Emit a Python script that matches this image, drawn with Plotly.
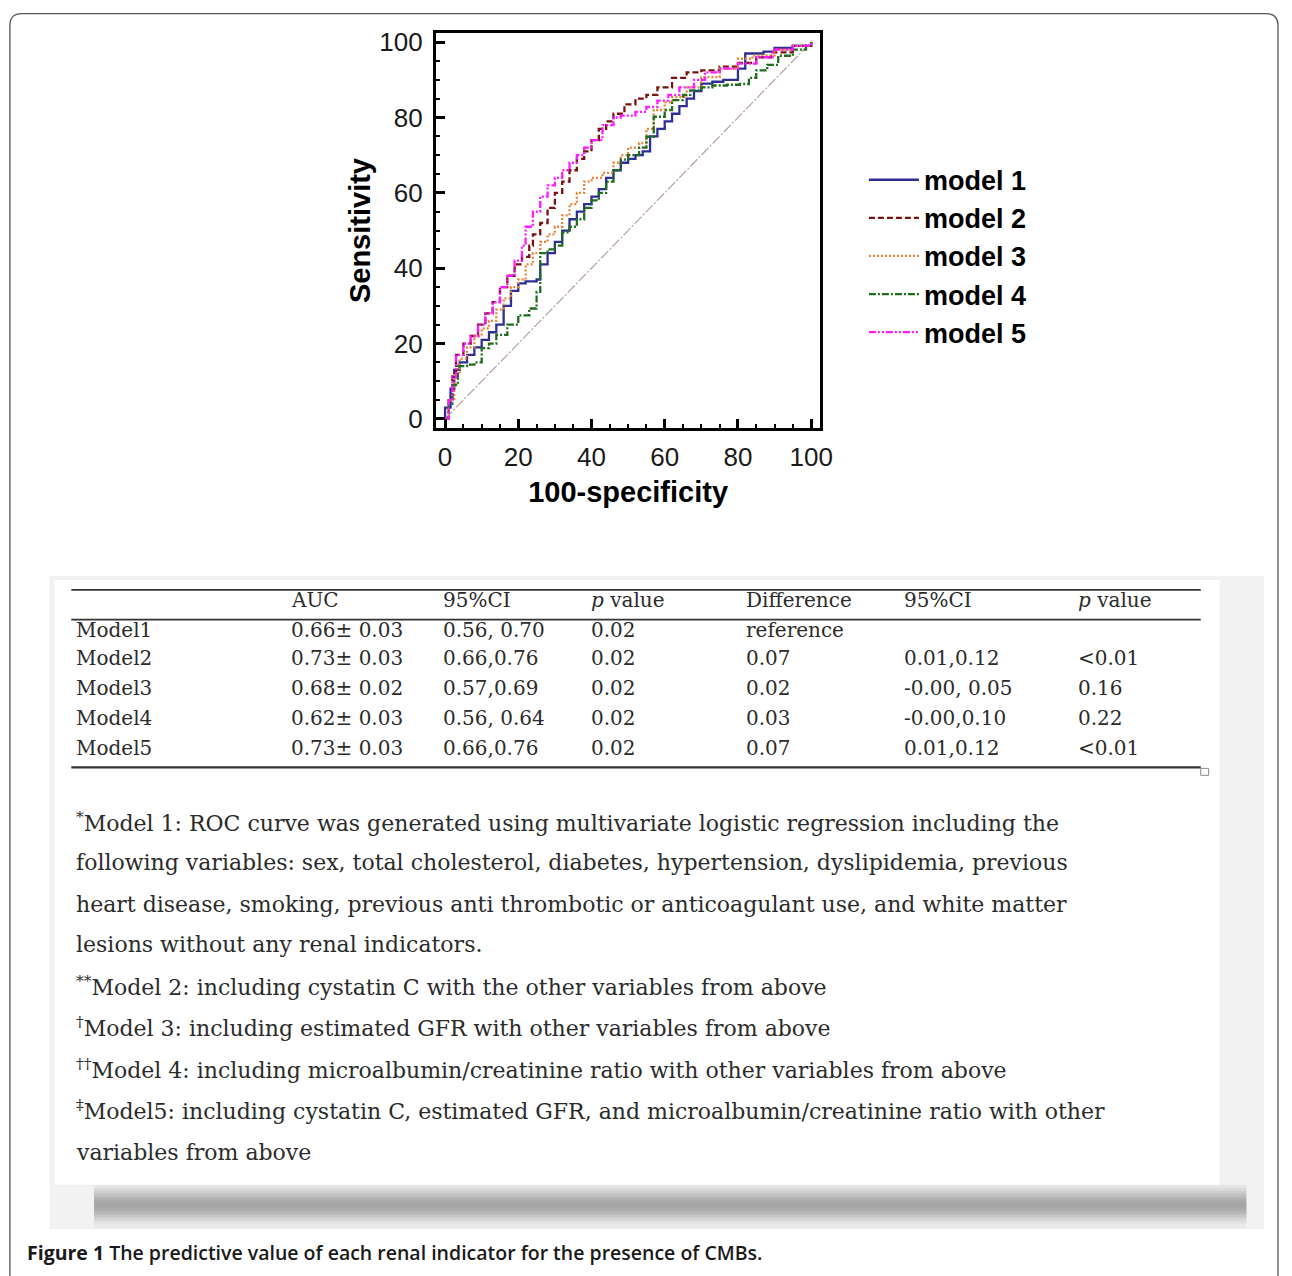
import plotly.graph_objects as go

W, H = 1292, 1276

# ---------------- ROC data (100-specificity, sensitivity) ----------------
m1_x = [0, 0, 1.5, 2.5, 4, 6, 8, 10, 12, 14, 16, 18, 20, 22, 25, 26, 28, 30, 32, 34, 36, 38, 40, 42, 44, 46, 48, 50, 52, 54, 56, 58, 60, 62, 64, 66, 68, 70, 73, 76, 80, 82, 87, 90, 95, 100]
m1_y = [0, 3, 8, 13, 15, 17, 19, 21, 23, 25, 30, 34, 36, 36.5, 37, 41, 44, 47, 50, 53, 55, 57, 59, 61, 64, 66, 68, 69, 70, 71, 75, 77, 79, 81, 83, 85, 87, 89, 89.5, 90, 93, 97, 97.5, 98.5, 99, 100]

m2_x = [0, 1, 2, 3, 5, 7, 9, 11, 13, 15, 17, 19, 21, 23, 24, 26, 28, 30, 32, 34, 36, 38, 40, 42, 44, 46, 49, 52, 55, 58, 62, 66, 70, 75, 80, 85, 89, 95, 100]
m2_y = [0, 5, 12, 17, 20, 22, 25, 28, 31, 35, 38, 41, 43, 46, 49, 52, 56, 60, 63, 66, 69, 71, 74, 77, 79, 81, 83.5, 85, 86, 88, 90.5, 92, 92.5, 93.5, 94.5, 96, 97.3, 99, 100]

m3_x = [0, 1, 2.5, 4, 6, 8, 10, 12, 14, 16, 18, 20, 22, 24, 26, 28, 30, 32, 34, 36, 38, 40, 43, 46, 48, 50, 53, 55, 57, 60, 62, 66, 70, 75, 80, 84, 90, 95, 100]
m3_y = [0, 5, 12, 16, 19, 22, 24, 26, 29, 32, 35, 37, 41, 44, 47, 49, 51, 54, 57, 60, 63, 64, 65.3, 68, 70, 72, 73.2, 77, 82, 84, 85.4, 88, 90.7, 93, 95.6, 96.5, 98, 99, 100]

m4_x = [0, 1, 2, 3.5, 6, 8, 10, 12, 14, 17, 20, 23, 25, 26, 28, 30, 32, 34, 36, 38, 40, 42, 44, 46, 48, 50, 53, 55, 57, 60, 62, 65, 67, 70, 73, 77, 80.5, 83, 85, 88, 91, 95, 98.6, 100]
m4_y = [0, 4, 9, 14, 14.4, 15, 18.8, 20, 22.3, 25, 27.5, 29.3, 33.7, 44, 45, 46, 49.5, 51, 53, 56, 58, 60, 63, 66, 68.8, 70, 72, 74.9, 80.2, 82, 84.6, 86, 87.2, 88, 88.5, 88.7, 88.9, 90.5, 92.5, 94, 96.4, 98, 99, 100]

m5_x = [0, 1, 2, 3, 5, 7, 9, 11, 13, 15, 17, 19, 21, 22, 24, 26, 28, 30, 32, 34, 36, 38, 40, 43, 46, 48, 52, 55, 58, 61, 64, 68, 71, 75, 80, 85, 89.5, 95, 100]
m5_y = [0, 5, 11, 17, 20, 22, 25, 28, 31, 35, 38, 42, 46, 51, 55, 59, 62, 64, 66, 68, 70, 72, 74, 78, 80, 80.5, 81.5, 82.8, 84.5, 86, 88, 90, 92, 93, 94.3, 96, 98, 99, 100]

ref_x = [0, 100]
ref_y = [0, 100]

series_names = ["model 1", "model 2", "model 3", "model 4", "model 5"]
series_colors = ["#2e2e96", "#7a1212", "#e8843a", "#1f6e1f", "#ff1aff"]
series_dash = ["solid", "6px,3px", "2px,2px", "7px,2px,2px,2px", "7px,2px,2px,2px,2px,2px"]
xtick_vals = [0, 20, 40, 60, 80, 100]
ytick_vals = [0, 20, 40, 60, 80, 100]

# ---------------- table data ----------------
col_headers = ["", "AUC", "95%CI", "<i>p</i> value", "Difference", "95%CI", "<i>p</i> value"]
row_models = ["Model1", "Model2", "Model3", "Model4", "Model5"]
col_auc = ["0.66± 0.03", "0.73± 0.03", "0.68± 0.02", "0.62± 0.03", "0.73± 0.03"]
col_ci = ["0.56, 0.70", "0.66,0.76", "0.57,0.69", "0.56, 0.64", "0.66,0.76"]
col_p = ["0.02", "0.02", "0.02", "0.02", "0.02"]
col_diff = ["reference", "0.07", "0.02", "0.03", "0.07"]
col_ci2 = ["", "0.01,0.12", "-0.00, 0.05", "-0.00,0.10", "0.01,0.12"]
col_p2 = ["", "&lt;0.01", "0.16", "0.22", "&lt;0.01"]

footnotes = [
    "<sup>*</sup>Model 1: ROC curve was generated using multivariate logistic regression including the",
    "following variables: sex, total cholesterol, diabetes, hypertension, dyslipidemia, previous",
    "heart disease, smoking, previous anti thrombotic or anticoagulant use, and white matter",
    "lesions without any renal indicators.",
    "<sup>**</sup>Model 2: including cystatin C with the other variables from above",
    "<sup>†</sup>Model 3: including estimated GFR with other variables from above",
    "<sup>††</sup>Model 4: including microalbumin/creatinine ratio with other variables from above",
    "<sup>‡</sup>Model5: including cystatin C, estimated GFR, and microalbumin/creatinine ratio with other",
    "variables from above",
]
caption = "<b>Figure 1</b> The predictive value of each renal indicator for the presence of CMBs."


def px(x):
    return x / W


def py(y):
    return 1 - y / H


fig = go.Figure()

fig.add_trace(go.Scatter(x=ref_x, y=ref_y, mode="lines", showlegend=False,
                         line=dict(color="#b8a0a4", width=1.2, dash="10px,2px,2px,2px"),
                         hoverinfo="skip"))

all_x = [m1_x, m2_x, m3_x, m4_x, m5_x]
all_y = [m1_y, m2_y, m3_y, m4_y, m5_y]
for i in range(5):
    fig.add_trace(go.Scatter(
        x=all_x[i], y=all_y[i], mode="lines", name="<b>" + series_names[i] + "</b>",
        line=dict(color=series_colors[i], width=2.3, dash=series_dash[i], shape="hv"),
    ))

shapes = []
# outer rounded border
r = 12
xl, xr, yt, yb = 10, 1290, 8.7, 1290
path = (f"M {px(xl)},{py(yb)} L {px(xl)},{py(yt + r)} Q {px(xl)},{py(yt)} {px(xl + r)},{py(yt)} "
        f"L {px(xr - r)},{py(yt)} Q {px(xr)},{py(yt)} {px(xr)},{py(yt + r)} L {px(xr)},{py(yb)}")
shapes.append(dict(type="path", path=path, xref="paper", yref="paper",
                   line=dict(color="#555555", width=1.3), layer="below"))

# table panel background and soft shadow
shapes.append(dict(type="rect", xref="paper", yref="paper", x0=px(50), x1=px(1276), y0=py(576), y1=py(1235),
                   fillcolor="#f2f2f2", line=dict(width=0), layer="below"))
shadow_cols = ["#e6e6e6", "#dadada", "#cdcdcd", "#c0c0c0", "#b4b4b4", "#aaaaaa", "#a4a4a4", "#a6a6a6",
               "#adadad", "#b8b8b8", "#c6c6c6", "#d4d4d4", "#e0e0e0", "#eaeaea"]
for k, c in enumerate(shadow_cols):
    shapes.append(dict(type="rect", xref="paper", yref="paper", x0=px(95), x1=px(1258),
                       y0=py(1190 + 3 * k), y1=py(1195 + 3 * k),
                       fillcolor=c, line=dict(width=0), layer="below"))
shapes.append(dict(type="rect", xref="paper", yref="paper", x0=px(55), x1=px(1231), y0=py(580), y1=py(1190),
                   fillcolor="white", line=dict(width=0), layer="below"))

# table rules
for yy, wd in [(590, 1.6), (620, 1.6), (769, 2.4)]:
    shapes.append(dict(type="line", xref="paper", yref="paper", x0=px(72), x1=px(1212), y0=py(yy), y1=py(yy),
                       line=dict(color="#333333", width=wd)))
shapes.append(dict(type="rect", xref="paper", yref="paper", x0=px(1212), x1=px(1220), y0=py(770), y1=py(777),
                   line=dict(color="#888888", width=1), fillcolor="white"))

annotations = []
col_x = [75, 292, 445, 595, 751, 910, 1086]
tfont = dict(family="DejaVu Serif, Liberation Serif, serif", size=20, color="#2b2b2b")
for j, h in enumerate(col_headers):
    if h:
        annotations.append(dict(text=h, x=px(col_x[j]), y=py(600), xref="paper", yref="paper",
                                xanchor="left", yanchor="middle", showarrow=False, font=tfont))
cols = [row_models, col_auc, col_ci, col_p, col_diff, col_ci2, col_p2]
row_y = [630, 659, 689, 719, 749]
for j, col in enumerate(cols):
    for i, v in enumerate(col):
        if v:
            annotations.append(dict(text=v, x=px(col_x[j]), y=py(row_y[i]), xref="paper", yref="paper",
                                    xanchor="left", yanchor="middle", showarrow=False, font=tfont))

fn_y = [824, 865, 907, 948, 990, 1031, 1073, 1115, 1157]
ffont = dict(family="DejaVu Serif, Liberation Serif, serif", size=22, color="#2b2b2b")
for t, yy in zip(footnotes, fn_y):
    annotations.append(dict(text=t, x=px(75), y=py(yy), xref="paper", yref="paper",
                            xanchor="left", yanchor="middle", showarrow=False, font=ffont))

annotations.append(dict(text=caption, x=px(25), y=py(1258), xref="paper", yref="paper",
                        xanchor="left", yanchor="middle", showarrow=False,
                        font=dict(family="Open Sans, Liberation Sans, sans-serif", size=19.5,
                                  color="#1a1a1a", weight=600)))

axis_common = dict(
    range=[-2.5, 102.5], showgrid=False, zeroline=False,
    showline=True, linecolor="black", linewidth=3, mirror=True,
    ticks="inside", ticklen=9, tickwidth=3, tickcolor="black",
    minor=dict(ticks="inside", dtick=5, ticklen=4, tickwidth=2, tickcolor="black"),
    tickfont=dict(family="Liberation Sans, Arial, sans-serif", size=26, color="#1a1a1a"),
)

fig.update_layout(
    width=W, height=H,
    margin=dict(l=0, r=0, t=0, b=0),
    paper_bgcolor="white", plot_bgcolor="white",
    xaxis=dict(domain=[px(440), px(828)], tickvals=xtick_vals, ticklabelstandoff=3,
               title=dict(text="<b>100-specificity</b>", standoff=12,
                          font=dict(family="Liberation Sans, Arial, sans-serif", size=29, color="black")),
               **axis_common),
    yaxis=dict(domain=[py(427), py(28)], tickvals=ytick_vals, ticklabelstandoff=5,
               title=dict(text="<b>Sensitivity</b>", standoff=1,
                          font=dict(family="Liberation Sans, Arial, sans-serif", size=29, color="black")),
               **axis_common),
    legend=dict(x=px(872), y=py(152), xanchor="left", yanchor="top",
                font=dict(family="Liberation Sans, Arial, sans-serif", size=27, color="black"),
                bgcolor="rgba(0,0,0,0)", itemwidth=50, tracegroupgap=0),
    shapes=shapes,
    annotations=annotations,
)

fig.write_html(
    "out.html",
    config={"displayModeBar": False},
    post_script=("document.body.style.margin='0px';"
                 "document.body.style.overflow='hidden';"
                 "document.documentElement.style.overflow='hidden';"),
)
